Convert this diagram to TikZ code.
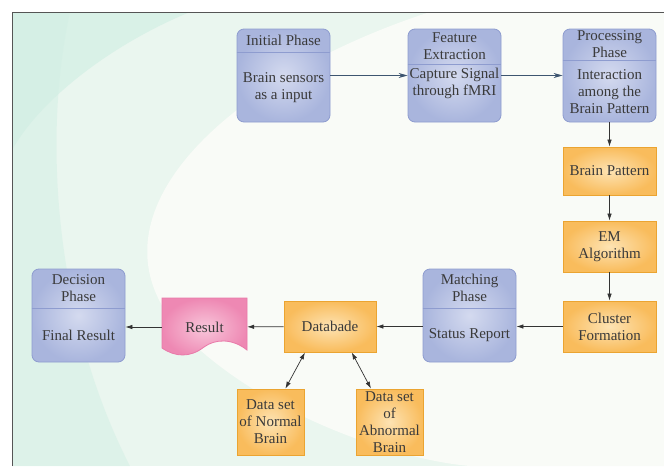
\documentclass[tikz,border=0pt]{standalone}
\usepackage{fontspec}
\setmainfont{Liberation Serif}
\usetikzlibrary{arrows.meta}
\definecolor{txt}{HTML}{3A3A3A}
\definecolor{frameline}{HTML}{555555}
\definecolor{bgwhite}{HTML}{F9FBF7}
\definecolor{bggreen}{HTML}{EAF6EF}
\definecolor{bgteal}{HTML}{D2EFE4}
\definecolor{blueedge}{HTML}{8E9CCF}
\definecolor{bluein}{HTML}{D4DAEF}
\definecolor{blueout}{HTML}{A9B5DD}
\definecolor{orangeedge}{HTML}{EBA431}
\definecolor{orangein}{HTML}{FDE3B3}
\definecolor{orangeout}{HTML}{F9BC5C}
\definecolor{pinkedge}{HTML}{E979A9}
\definecolor{pinkin}{HTML}{F8C6DA}
\definecolor{pinkout}{HTML}{EE88B3}
\definecolor{arrowblue}{HTML}{3D5570}
\definecolor{arrowgrey}{HTML}{333333}
\tikzset{
  words/.style={text=txt, font=\fontsize{15}{17}\selectfont, align=center, inner sep=0pt},
  phase/.style={draw=blueedge, line width=0.8pt, inner color=bluein, outer color=blueout,
    rounded corners=7pt, minimum width=93pt, minimum height=93pt},
  divider/.style={draw=blueedge, line width=0.8pt},
  stage/.style={words, draw=orangeedge, line width=0.8pt, inner color=orangein, outer color=orangeout,
    minimum width=93pt, minimum height=51pt},
  dataset/.style={stage, minimum width=67pt, minimum height=66pt},
  flow/.style={-{Latex[length=7pt,width=4.5pt]}, arrowgrey, line width=0.7pt},
  topflow/.style={-{Stealth[length=9pt,width=5pt]}, arrowblue, line width=0.8pt},
  twoway/.style={{Latex[length=7pt,width=4.5pt]}-{Latex[length=7pt,width=4.5pt]}, arrowgrey, line width=0.7pt}
}
\begin{document}
\begin{tikzpicture}[x=1pt,y=-1pt]
  \useasboundingbox (0,0) rectangle (664,466);
  % background
  \begin{scope}
    \clip (12,12) rectangle (664,466);
    \fill[bggreen] (12,12) rectangle (664,466);
    \fill[bgwhite] (430,12) .. controls (220,80) and (60,230) .. (200,350)
      .. controls (280,420) and (400,460) .. (470,466) -- (664,466) -- (664,12) -- cycle;
    \fill[bgteal, opacity=0.7] (12,12) -- (190,12) .. controls (110,45) and (40,100) .. (12,150) -- cycle;
    \fill[bgteal, opacity=0.5] (12,12) -- (70,12) .. controls (40,150) and (60,330) .. (130,466) -- (12,466) -- cycle;
  \end{scope}
  \draw[frameline, line width=0.8pt] (12,466) -- (12,12) -- (664,12);

  % phase boxes
  \node[phase] (init) at (283.5,75.5) {};
  \node[phase] (feat) at (454.5,75.5) {};
  \node[phase] (proc) at (609.5,75.5) {};
  \node[phase] (match) at (469.5,315.5) {};
  \node[phase] (decision) at (78.5,315.5) {};
  \draw[divider] (init.west |- 0,52) -- (init.east |- 0,52);
  \draw[divider] (feat.west |- 0,64) -- (feat.east |- 0,64);
  \draw[divider] (proc.west |- 0,60) -- (proc.east |- 0,60);
  \draw[divider] (match.west |- 0,308) -- (match.east |- 0,308);
  \draw[divider] (decision.west |- 0,308) -- (decision.east |- 0,308);

  \node[words] (inithead) at (283.5,40) {Initial Phase};
  \node[words] (initbody) at (283.5,87.5) {Brain sensors\\as a input};
  \node[words] (feathead) at (454.5,46.5) {Feature\\Extraction};
  \node[words] (featbody) at (454.5,83.5) {Capture Signal\\through fMRI};
  \node[words] (prochead) at (609.5,44.5) {Processing\\Phase};
  \node[words] (procbody) at (609.5,92) {Interaction\\among the\\Brain Pattern};
  \node[words] (matchhead) at (469.5,287.5) {Matching\\Phase};
  \node[words] (matchbody) at (469.5,335) {Status Report};
  \node[words] (decisionhead) at (78.5,288.5) {Decision\\Phase};
  \node[words] (decisionbody) at (78.5,335) {Final Result};

  % process steps
  \node[stage, minimum height=48pt] (pattern) at (609.5,171) {Brain Pattern};
  \node[stage] (em) at (609.5,246.5) {EM\\Algorithm};
  \node[stage] (cluster) at (609.5,326.5) {Cluster\\Formation};
  \node[stage, minimum width=92pt] (db) at (330,326.5) {Databade};
  \node[dataset] (normal) at (270.5,422) {Data set\\of Normal\\Brain};
  \node[dataset] (abnormal) at (389.5,422) {Data set\\of\\Abnormal\\Brain};

  % result document
  \shadedraw[draw=pinkedge, line width=0.8pt, inner color=pinkin, outer color=pinkout]
    (162,298) -- (247,298) -- (247,350)
    .. controls (232,338) and (215,339) .. (204,347)
    .. controls (190,358) and (175,357) .. (162,348) -- cycle;
  \node[words, minimum width=85pt, minimum height=58pt] (result) at (204.5,327) {Result};

  \begin{scope}
    \draw[topflow] (init) to (feat);
    \draw[topflow] (feat) to (proc);
    \draw[flow] (proc) to (pattern);
    \draw[flow] (pattern) to (em);
    \draw[flow] (em) to (cluster);
    \draw[flow] (cluster.west) to (match.east |- cluster.west);
    \draw[flow] (match.west |- db.east) to (db.east);
    \draw[flow] (db) to (result);
    \draw[flow] (result) to (decision.east |- result.west);
    \draw[twoway] (db.-134) to (normal.66);
    \draw[twoway] (db.-50) to (abnormal.119);
  \end{scope}
\end{tikzpicture}
\end{document}
